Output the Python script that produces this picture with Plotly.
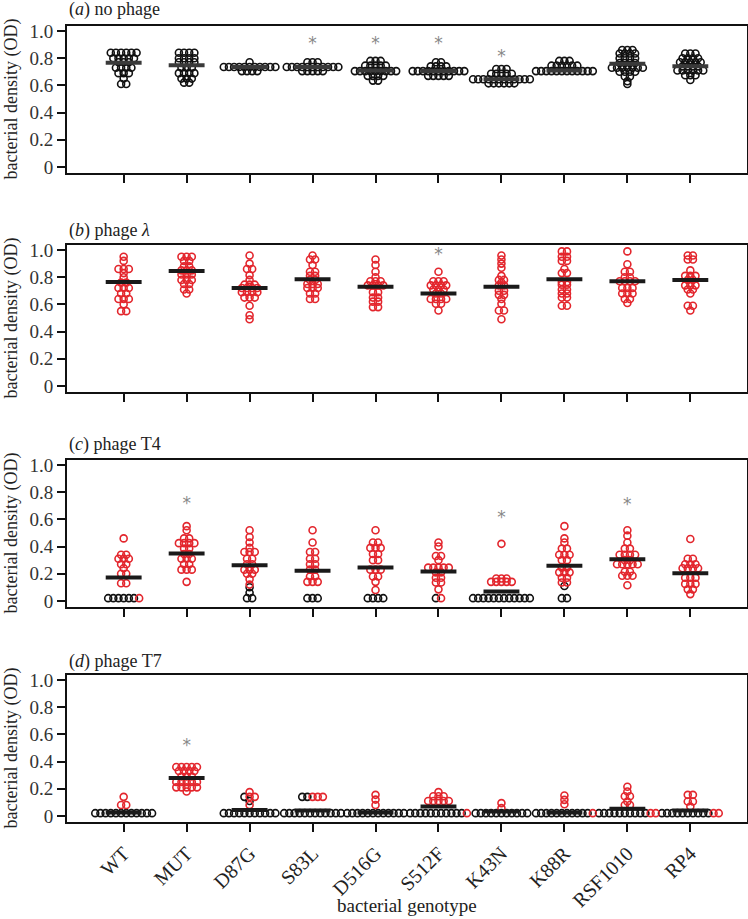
import plotly.graph_objects as go

genotypes = ["WT", "MUT", "D87G", "S83L", "D516G", "S512F", "K43N", "K88R", "RSF1010", "RP4"]
panel_titles = ["(<i>a</i>) no phage", "(<i>b</i>) phage <i>λ</i>", "(<i>c</i>) phage T4", "(<i>d</i>) phage T7"]
y_tick_vals = [0, 0.2, 0.4, 0.6, 0.8, 1.0]
y_tick_text = ["0", "0.2", "0.4", "0.6", "0.8", "1.0"]

# ---- panel a: no phage (all black) ----
a_black = [
    [0.84]*6 + [0.80]*5 + [0.77]*3 + [0.73]*4 + [0.69]*3 + [0.65] + [0.61]*2,
    [0.84]*4 + [0.80]*4 + [0.77]*4 + [0.73]*3 + [0.69]*4 + [0.65]*3 + [0.62]*2,
    [0.77] + [0.735]*11 + [0.705]*4,
    [0.77]*3 + [0.735]*11 + [0.705]*5,
    [0.78]*3 + [0.745]*5 + [0.705]*9 + [0.67]*4 + [0.635]*2,
    [0.77]*2 + [0.74]*4 + [0.705]*11 + [0.67]*5,
    [0.72]*3 + [0.685]*5 + [0.645]*12 + [0.615]*6,
    [0.78]*3 + [0.745]*6 + [0.705]*12,
    [0.86]*3 + [0.835]*4 + [0.80]*4 + [0.765]*4 + [0.73]*7 + [0.70]*4 + [0.665]*2 + [0.63] + [0.61],
    [0.835]*3 + [0.80]*4 + [0.77]*5 + [0.74]*4 + [0.71]*6 + [0.675]*3 + [0.64],
]
a_red = [[] for _ in range(10)]
a_mean = [0.767, 0.748, 0.735, 0.735, 0.71, 0.705, 0.645, 0.71, 0.76, 0.74]
a_star_idx = [3, 4, 5, 6]
a_star_y = [0.90, 0.90, 0.90, 0.80]

# ---- panel b: phage lambda (all red) ----
b_red = [
    [0.95, 0.92] + [0.86]*3 + [0.83, 0.80] + [0.76]*2 + [0.72]*3 + [0.68]*2 + [0.64]*3 + [0.60] + [0.55]*2,
    [0.95]*3 + [0.92]*2 + [0.88]*2 + [0.85]*3 + [0.82]*3 + [0.78]*3 + [0.75]*2 + [0.71]*2 + [0.68],
    [0.96, 0.90] + [0.86]*2 + [0.815, 0.78] + [0.745]*3 + [0.72]*4 + [0.69]*4 + [0.65]*3 + [0.59, 0.52, 0.49],
    [0.96] + [0.93]*2 + [0.89] + [0.84]*2 + [0.81]*2 + [0.78]*2 + [0.75]*3 + [0.72]*3 + [0.68]*2 + [0.64]*2,
    [0.93, 0.89, 0.84, 0.80] + [0.77]*3 + [0.74]*4 + [0.69]*2 + [0.65]*2 + [0.62]*2 + [0.58]*2,
    [0.84] + [0.77]*3 + [0.74]*4 + [0.71]*3 + [0.68]*2 + [0.64]*4 + [0.605]*2 + [0.555],
    [0.96, 0.93, 0.90, 0.87, 0.81] + [0.78]*2 + [0.76] + [0.74]*2 + [0.70]*2 + [0.67]*2 + [0.64, 0.605] + [0.555]*2 + [0.49],
    [0.99]*2 + [0.95]*2 + [0.92]*2 + [0.86] + [0.83]*2 + [0.765]*2 + [0.745]*2 + [0.71]*2 + [0.68]*2 + [0.65]*2 + [0.59]*2,
    [0.99, 0.895] + [0.84]*2 + [0.80]*2 + [0.77]*4 + [0.72]*3 + [0.68]*3 + [0.64]*2 + [0.61],
    [0.96]*2 + [0.93]*2 + [0.85] + [0.81]*3 + [0.78]*2 + [0.74]*3 + [0.71]*2 + [0.68] + [0.59]*2 + [0.555],
]
b_black = [[] for _ in range(10)]
b_mean = [0.765, 0.845, 0.72, 0.785, 0.73, 0.68, 0.73, 0.785, 0.77, 0.78]
b_star_idx = [5]
b_star_y = [0.955]

# ---- panel c: phage T4 ----
c_red = [
    [0.46, 0.34, 0.34, 0.31, 0.31, 0.31, 0.27, 0.27, 0.24, 0.20, 0.20, 0.13, 0.13, 0.02],
    [0.55, 0.52, 0.46, 0.46] + [0.425]*4 + [0.385]*2 + [0.345]*2 + [0.31]*3 + [0.27]*2 + [0.23]*3 + [0.14],
    [0.52, 0.47, 0.43, 0.39] + [0.36]*3 + [0.31]*2 + [0.27]*2 + [0.23]*3 + [0.20]*2 + [0.16, 0.12],
    [0.52, 0.43] + [0.36]*2 + [0.31]*2 + [0.27]*2 + [0.23]*2 + [0.18]*2 + [0.14]*3,
    [0.52] + [0.43]*2 + [0.39]*3 + [0.345]*2 + [0.30]*2 + [0.23]*3 + [0.18]*2 + [0.14, 0.08],
    [0.43, 0.40, 0.33, 0.33, 0.30] + [0.245]*5 + [0.21]*2 + [0.17]*2 + [0.135]*2 + [0.085, 0.02],
    [0.42] + [0.165]*3 + [0.14]*5,
    [0.55, 0.46, 0.43] + [0.385]*2 + [0.34]*3 + [0.30]*2 + [0.245]*2 + [0.21]*3 + [0.17]*2 + [0.135]*2,
    [0.52, 0.48, 0.43] + [0.385]*2 + [0.34]*4 + [0.30]*2 + [0.27]*5 + [0.215]*2 + [0.185]*3 + [0.115],
    [0.455] + [0.31]*2 + [0.27]*3 + [0.24]*4 + [0.17]*3 + [0.125]*3 + [0.085]*2 + [0.05],
]
c_black = [
    [0.02]*6, [], [0.10, 0.06, 0.02, 0.02], [0.02]*3, [0.02]*4,
    [0.02], [0.02]*12, [0.11, 0.02, 0.02], [], [],
]
c_mean = [0.172, 0.349, 0.263, 0.221, 0.246, 0.216, 0.069, 0.258, 0.307, 0.204]
c_star_idx = [1, 6, 8]
c_star_y = [0.705, 0.607, 0.70]

# ---- panel d: phage T7 ----
d_red = [
    [0.14, 0.08, 0.08],
    [0.36]*5 + [0.33]*4 + [0.29]*3 + [0.25]*5 + [0.21]*5 + [0.18],
    [0.175, 0.14, 0.14, 0.08],
    [0.14]*3,
    [0.155, 0.12, 0.08],
    [0.175] + [0.145]*3 + [0.11]*5 + [0.02],
    [0.094, 0.057],
    [0.15, 0.118, 0.086, 0.02],
    [0.215, 0.18, 0.145, 0.145, 0.106, 0.08, 0.08, 0.02, 0.02],
    [0.155]*2 + [0.106]*2 + [0.069] + [0.02]*2,
]
d_black = [
    [0.02]*12, [], [0.14, 0.11] + [0.02]*11, [0.14]*2 + [0.02]*12, [0.02]*12,
    [0.02]*11, [0.02]*11, [0.02]*11, [0.02]*10, [0.02]*10,
]
d_mean = [0.025, 0.278, 0.044, 0.039, 0.025, 0.069, 0.032, 0.025, 0.052, 0.039]
d_star_idx = [1]
d_star_y = [0.507]

panels = [
    (a_black, a_red, a_mean, a_star_idx, a_star_y),
    (b_black, b_red, b_mean, b_star_idx, b_star_y),
    (c_black, c_red, c_mean, c_star_idx, c_star_y),
    (d_black, d_red, d_mean, d_star_idx, d_star_y),
]

# ---- layout constants ----
W, H = 748, 919
ML, MR = 67, 1
panel_px = [(26, 173), (245, 392), (460, 607), (675, 822)]  # top, bottom in pixels
title_px = [10, 230, 445, 661]
DX = 0.082          # horizontal swarm spacing (x units)
BAR_HALF = 0.285
RED = "#e3262d"
BLK = "#111111"
FONT = "Liberation Serif, Times New Roman, serif"


def swarm(blacks, reds, center):
    rows = {}
    for v in blacks:
        rows.setdefault(round(v, 3), []).append("k")
    for v in reds:
        rows.setdefault(round(v, 3), []).append("r")
    kx, ky, rx, ry = [], [], [], []
    for v, cols in rows.items():
        n = len(cols)
        for i, c in enumerate(cols):
            off = (i - (n - 1) / 2) * DX
            if c == "k":
                kx.append(center + off); ky.append(v)
            else:
                rx.append(center + off); ry.append(v)
    return kx, ky, rx, ry


fig = go.Figure()
for p, (blk, red, means, sidx, sy) in enumerate(panels):
    sfx = "" if p == 0 else str(p + 1)
    xr, yr = "x" + sfx, "y" + sfx
    KX, KY, RX, RY = [], [], [], []
    for g in range(len(genotypes)):
        kx, ky, rx, ry = swarm(blk[g], red[g], g)
        KX += kx; KY += ky; RX += rx; RY += ry
    if KX:
        fig.add_trace(go.Scatter(x=KX, y=KY, mode="markers", xaxis=xr, yaxis=yr,
                                 marker=dict(symbol="circle-open", size=7, color=BLK, line=dict(width=1.6)),
                                 showlegend=False, hoverinfo="skip"))
    if RX:
        fig.add_trace(go.Scatter(x=RX, y=RY, mode="markers", xaxis=xr, yaxis=yr,
                                 marker=dict(symbol="circle-open", size=7, color=RED, line=dict(width=1.6)),
                                 showlegend=False, hoverinfo="skip"))
    bx, by = [], []
    for g, m in enumerate(means):
        bx += [g - BAR_HALF, g + BAR_HALF, None]
        by += [m, m, None]
    fig.add_trace(go.Scatter(x=bx, y=by, mode="lines", xaxis=xr, yaxis=yr,
                             line=dict(color="#3a3a3a" if p == 0 else "#1a1a1a", width=4),
                             showlegend=False, hoverinfo="skip"))
    fig.add_trace(go.Scatter(x=sidx, y=sy, mode="text", text=["*"] * len(sidx), xaxis=xr, yaxis=yr,
                             textfont=dict(family="DejaVu Sans", size=17, color="#888888"),
                             textposition="middle center", showlegend=False, hoverinfo="skip"))

    top, bot = panel_px[p]
    pw = W - ML - MR
    dom = [1 - bot / H, 1 - top / H]
    fig.layout["xaxis" + sfx] = dict(
        domain=[0, 1], anchor=yr, range=[-0.9, 9.9],
        tickvals=list(range(len(genotypes))), ticktext=genotypes,
        showticklabels=(p == 3), tickangle=-45,
        tickfont=dict(family=FONT, size=20, color="#222"),
        ticks="outside", ticklen=8, tickwidth=2, tickcolor=BLK, ticklabelstandoff=2,
        showline=True, mirror=True, linewidth=2, linecolor=BLK,
        showgrid=False, zeroline=False, fixedrange=True,
    )
    fig.layout["yaxis" + sfx] = dict(
        domain=dom, anchor=xr, range=[-0.045, 1.037],
        tickvals=y_tick_vals, ticktext=y_tick_text,
        tickfont=dict(family=FONT, size=19, color="#333"),
        ticks="outside", ticklen=8, tickwidth=1.5, tickcolor=BLK,
        showline=True, mirror=True, linewidth=2, linecolor=BLK,
        showgrid=False, zeroline=False, fixedrange=True,
    )
    fig.add_annotation(text=panel_titles[p], xref="paper", yref="paper",
                       x=0, y=1 - title_px[p] / H, xanchor="left", yanchor="middle",
                       showarrow=False, font=dict(family=FONT, size=18, color="#222"))
    fig.add_annotation(text="bacterial density (OD)", xref="paper", yref="paper",
                       x=(11 - ML) / pw, y=(dom[0] + dom[1]) / 2, textangle=-90,
                       xanchor="center", yanchor="middle", showarrow=False,
                       font=dict(family=FONT, size=18, color="#222"))

fig.add_annotation(text="bacterial genotype", xref="paper", yref="paper",
                   x=0.5, y=1 - 905 / H, xanchor="center", yanchor="middle",
                   showarrow=False, font=dict(family=FONT, size=19, color="#222"))

fig.update_layout(width=W, height=H, margin=dict(l=ML, r=MR, t=0, b=0, autoexpand=False),
                  plot_bgcolor="white", paper_bgcolor="white", showlegend=False)
fig.write_html("out.html", config={"displayModeBar": False},
               post_script="document.body.style.margin='0';document.body.style.overflow='hidden';")
